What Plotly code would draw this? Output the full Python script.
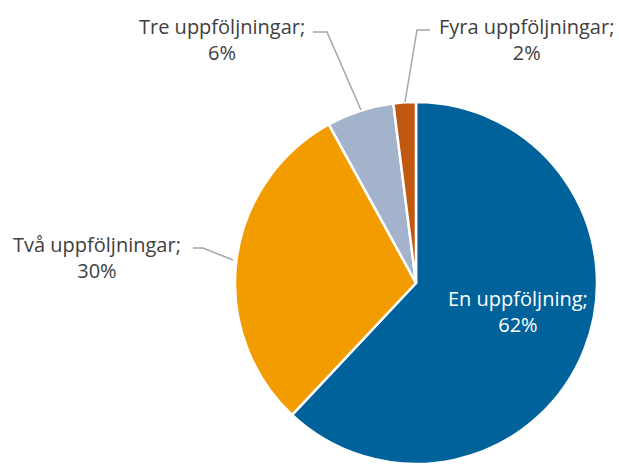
import plotly.graph_objects as go

labels = ["En uppföljning", "Två uppföljningar", "Tre uppföljningar", "Fyra uppföljningar"]
values = [62, 30, 6, 2]
colors = ["#00629B", "#F39C00", "#A3B3CC", "#C0580F"]

W, H = 619, 464

def px(x, y):
    return x / W, 1 - y / H

fig = go.Figure(go.Pie(
    labels=labels, values=values, sort=False, direction="clockwise", rotation=0,
    marker=dict(colors=colors, line=dict(color="white", width=2.5)),
    textinfo="none", hoverinfo="label+percent", showlegend=False,
    domain=dict(x=[233 / W, 599 / W], y=[0, 1 - 102 / H]),
))

# label positions (pixels) and leader lines
label_pos = [(518, 311), (97, 257), (222, 39), (526, 39)]
label_colors = ["white", "#404040", "#404040", "#404040"]
leaders = [None,
           [(193, 248), (203, 248), (233, 260)],
           [(313, 32), (327, 32), (361, 110)],
           [(430, 30), (417, 30), (405, 102)]]

total = sum(values)
for lab, v, (x, y), c in zip(labels, values, label_pos, label_colors):
    ax, ay = px(x, y)
    fig.add_annotation(x=ax, y=ay, xref="paper", yref="paper", showarrow=False,
                       xanchor="center", yanchor="middle",
                       text=f"{lab};<br>{round(100 * v / total)}%",
                       font=dict(family="Open Sans, sans-serif", size=20, color=c),
                       align="center")

for pts in leaders:
    if pts is None:
        continue
    path = "M " + " L ".join(f"{px(x, y)[0]},{px(x, y)[1]}" for x, y in pts)
    fig.add_shape(type="path", path=path, xref="paper", yref="paper",
                  line=dict(color="#A6A6A6", width=1.5))

fig.update_layout(width=W, height=H, margin=dict(l=0, r=0, t=0, b=0),
                  paper_bgcolor="white", plot_bgcolor="white")
fig.write_html("out.html", config={"displayModeBar": False},
               post_script="document.body.style.margin='0';document.body.style.overflow='hidden';")
